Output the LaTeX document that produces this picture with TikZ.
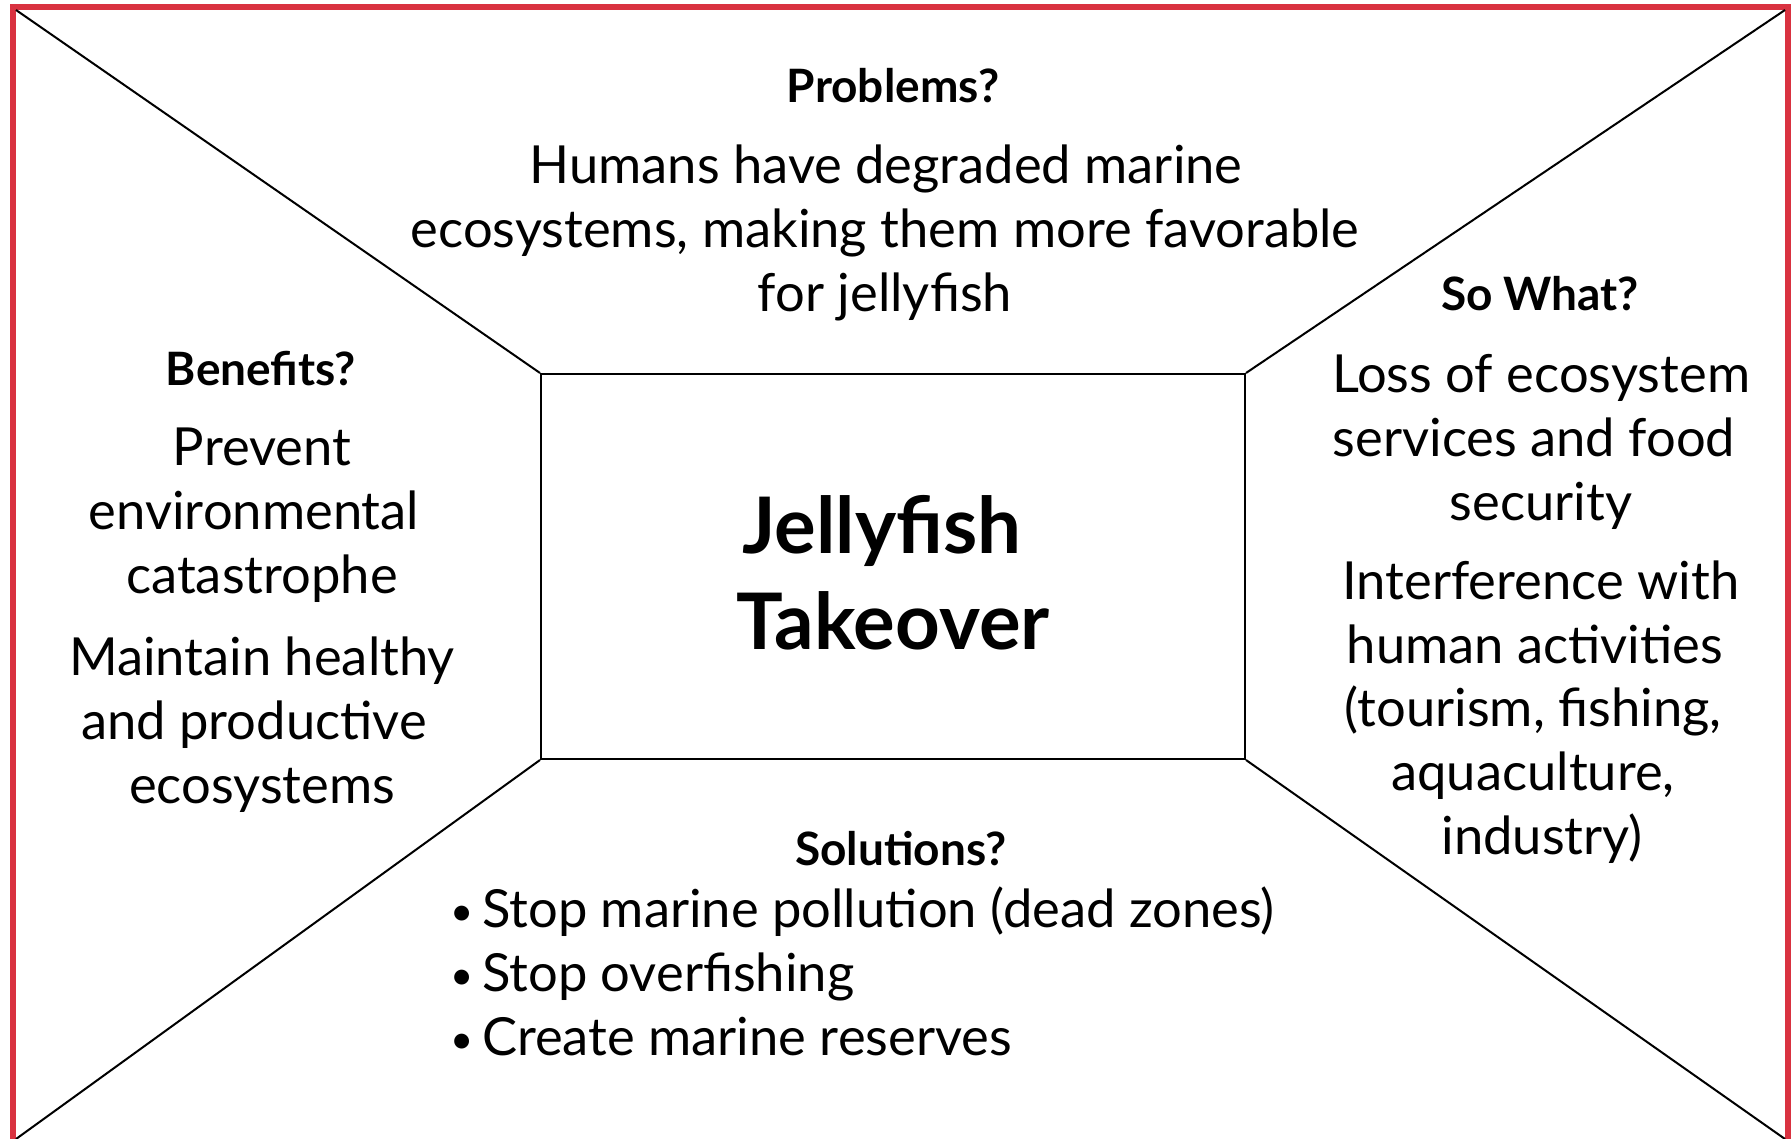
\documentclass[tikz,border=0pt]{standalone}
\usepackage{fontspec}
\setmainfont{Lato}
\definecolor{frame}{RGB}{217,50,64}
\begin{document}
\begin{tikzpicture}[x=1pt,y=-1pt,
  body/.style={font={\fontsize{52.5}{64}\selectfont}, inner sep=0pt, anchor=base},
  head/.style={font={\fontsize{46}{52}\selectfont\bfseries}, inner sep=0pt, anchor=base},
  titletext/.style={font={\fontsize{78}{96}\selectfont\bfseries}, inner sep=0pt, anchor=base},
  bullet/.style={font={\fontsize{52.5}{64}\selectfont}, inner sep=0pt, anchor=base west},
  dot/.style={font={\fontsize{40}{64}\selectfont}, inner sep=0pt, anchor=base west},
  thin/.style={line width=2pt, black}]
\useasboundingbox (0,0) rectangle (1791,1139);
\clip (0,0) rectangle (1791,1139);
% frame
\draw[frame, line width=6pt] (13,7) rectangle (1788,1160);
% corners
\coordinate (tl) at (16,10);
\coordinate (tr) at (1785,10);
\coordinate (bl) at (16,1139);
\coordinate (br) at (1785,1139);
% central box
\node[draw, thin, minimum width=704pt, minimum height=385pt, inner sep=0pt] (core) at (893,566.5) {};
\draw[thin] (tl) -- (core.north west);
\draw[thin] (tr) -- (core.north east);
\draw[thin] (bl) -- (core.south west);
\draw[thin] (br) -- (core.south east);
% title
\node[titletext] (t1) at (882,553) {Jellyfish};
\node[titletext] (t2) at (893,649) {Takeover};
% top
\node[head] (ph) at (893,103) {Problems?};
\node[body] (p1) at (886,184) {Humans have degraded marine};
\node[body] (p2) at (885,248) {ecosystems, making them more favorable};
\node[body] (p3) at (885,312) {for jellyfish};
% left
\node[head] (bh) at (261,386) {Benefits?};
\node[body] (b1) at (262,465) {Prevent};
\node[body] (b2) at (254,529) {environmental};
\node[body] (b3) at (262,593) {catastrophe};
\node[body] (b4) at (262,675) {Maintain healthy};
\node[body] (b5) at (254,739) {and productive};
\node[body] (b6) at (262,803) {ecosystems};
% right
\node[head] (sh) at (1540,311) {So What?};
\node[body] (s1) at (1541,392) {Loss of ecosystem};
\node[body] (s2) at (1534,456) {services and food};
\node[body] (s3) at (1541,520) {security};
\node[body] (s4) at (1541,599) {Interference with};
\node[body] (s5) at (1535,663) {human activities};
\node[body] (s6) at (1533,726) {(tourism, fishing,};
\node[body] (s7) at (1533,790) {aquaculture,};
\node[body] (s8) at (1542,854) {industry)};
% bottom
\node[head] (oh) at (901,865) {Solutions?};
\node[dot] (d1) at (450,925) {•};
\node[dot] (d2) at (450,989) {•};
\node[dot] (d3) at (450,1053) {•};
\node[bullet] (o1) at (482,927) {Stop marine pollution (dead zones)};
\node[bullet] (o2) at (482,991) {Stop overfishing};
\node[bullet] (o3) at (482,1055) {Create marine reserves};
\end{tikzpicture}
\end{document}
